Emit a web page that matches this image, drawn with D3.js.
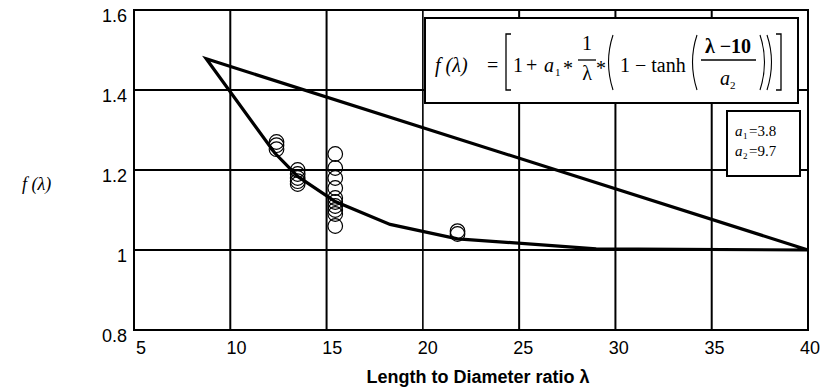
<!DOCTYPE html>
<html><head><meta charset="utf-8">
<script src="https://cdn.jsdelivr.net/npm/d3@7"></script>
<style>body{margin:0;background:#fff}svg{display:block}</style>
</head><body><svg id="c" width="829" height="391"></svg>
<script>
// ---- data ----
const xTicks = [5, 10, 15, 20, 25, 30, 35, 40];
const yTicks = [0.8, 1.0, 1.2, 1.4, 1.6];
const yTickLabels = ["0.8", "1", "1.2", "1.4", "1.6"];
// model curve f(lambda)
const curveLambda = [8.75, 12.3, 13.5, 15.45, 18.3, 21.8, 29, 40];
const curveF      = [1.478, 1.243, 1.184, 1.121, 1.064, 1.028, 1.003, 1.0];
// straight bounding line
const boundLambda = [40, 8.75];
const boundF      = [1.0, 1.478];
// observed points
const obsLambda = [12.4, 12.4, 12.4, 13.5, 13.5, 13.5, 13.5, 13.5,
                   15.45, 15.45, 15.45, 15.45, 15.45, 15.45, 15.45, 15.45, 15.45, 15.45,
                   21.8, 21.8];
const obsF      = [1.27, 1.262, 1.252, 1.2, 1.19, 1.18, 1.172, 1.165,
                   1.24, 1.205, 1.18, 1.155, 1.13, 1.12, 1.11, 1.10, 1.09, 1.06,
                   1.047, 1.04];
const a1 = "3.8", a2 = "9.7";

const svg = d3.select("#c");
const x = d3.scaleLinear().domain([5, 40]).range([134, 808]);
const y = d3.scaleLinear().domain([0.8, 1.6]).range([330, 10]);
const xLab = d3.scaleLinear().domain([5, 40]).range([141, 810]);

// gridlines
svg.append("g").selectAll("line").data(xTicks.slice(1, -1)).join("line")
  .attr("x1", d => x(d)).attr("x2", d => x(d)).attr("y1", y(1.6)).attr("y2", y(0.8))
  .attr("stroke", "#000").attr("stroke-width", d => d === 20 ? 1.6 : 2);
svg.append("g").selectAll("line").data(yTicks.slice(1, -1)).join("line")
  .attr("y1", d => y(d)).attr("y2", d => y(d)).attr("x1", x(5)).attr("x2", x(40))
  .attr("stroke", "#000").attr("stroke-width", 2);
// frame
svg.append("rect").attr("x", x(5)).attr("y", y(1.6))
  .attr("width", x(40) - x(5)).attr("height", y(0.8) - y(1.6))
  .attr("fill", "none").attr("stroke", "#000").attr("stroke-width", 2);

// tick labels
svg.append("g").selectAll("text").data(yTicks).join("text")
  .attr("x", 127).attr("y", d => y(d) + 6).attr("dy", "0.35em")
  .attr("text-anchor", "end").attr("font-family", "Liberation Sans, Arial, sans-serif")
  .attr("font-size", 18).text((d, i) => yTickLabels[i]);
svg.append("g").selectAll("text").data(xTicks).join("text")
  .attr("x", d => xLab(d)).attr("y", 354)
  .attr("text-anchor", "middle").attr("font-family", "Liberation Sans, Arial, sans-serif")
  .attr("font-size", 18).text(d => d);

// axis titles
svg.append("text").attr("x", 478).attr("y", 383).attr("text-anchor", "middle")
  .attr("font-family", "Liberation Sans, Arial, sans-serif").attr("font-weight", "bold")
  .attr("font-size", 18).text("Length to Diameter ratio  λ");
svg.append("text").attr("x", 22).attr("y", 190)
  .attr("font-family", "Liberation Serif, Times New Roman, serif").attr("font-style", "italic")
  .attr("font-size", 18).text("f (λ)");

// bound line + model curve drawn as one stroke so the apex is a sharp tip
const line = d3.line().x(d => x(d[0])).y(d => y(d[1]));
const pts = boundLambda.map((l, i) => [l, boundF[i]])
  .concat(curveLambda.slice(1).map((l, i) => [l, curveF[i + 1]]));
svg.append("path").datum(pts)
  .attr("d", line).attr("fill", "none").attr("stroke", "#000").attr("stroke-width", 3.2)
  .attr("stroke-linejoin", "miter").attr("stroke-miterlimit", 8);

// observations
svg.append("g").selectAll("circle").data(obsLambda.map((l, i) => [l, obsF[i]])).join("circle")
  .attr("cx", d => x(d[0])).attr("cy", d => y(d[1])).attr("r", 7.3)
  .attr("fill", "none").attr("stroke", "#000").attr("stroke-width", 1.2);

// formula box
const serif = "Liberation Serif, Times New Roman, serif";
const fb = svg.append("g");
fb.append("rect").attr("x", 425).attr("y", 18).attr("width", 373).attr("height", 85)
  .attr("fill", "#fff").attr("stroke", "#000").attr("stroke-width", 2);
function t(g, xx, yy, s, opt = {}) {
  const e = g.append("text").attr("x", xx).attr("y", yy).attr("font-family", serif)
    .attr("font-size", opt.size || 20).text(s);
  if (opt.italic) e.attr("font-style", "italic");
  if (opt.bold) e.attr("font-weight", "bold");
  if (opt.anchor) e.attr("text-anchor", opt.anchor);
  return e;
}
t(fb, 435, 72, "f (λ)", {italic: true});
t(fb, 487, 72, "=");
fb.append("path").attr("d", "M511,34 H506 V90 H511").attr("fill", "none").attr("stroke", "#000").attr("stroke-width", 1.3);
t(fb, 513, 72, "1");
t(fb, 526, 72, "+");
t(fb, 544, 72, "a", {italic: true});
t(fb, 555, 76, "1", {size: 11});
t(fb, 563, 75, "*");
t(fb, 587, 50, "1", {anchor: "middle"});
fb.append("line").attr("x1", 578).attr("x2", 596).attr("y1", 60).attr("y2", 60).attr("stroke", "#000").attr("stroke-width", 1.3);
t(fb, 587, 80, "λ", {anchor: "middle"});
t(fb, 596, 75, "*");
function paren(x0, dir) {
  fb.append("path").attr("d", `M${x0},35 Q${x0 - dir * 9},62 ${x0},90`)
    .attr("fill", "none").attr("stroke", "#000").attr("stroke-width", 1.1);
}
paren(613, 1);
t(fb, 620, 72, "1 − tanh");
paren(697, 1);
t(fb, 728, 53, "λ −10", {bold: true, anchor: "middle"});
fb.append("line").attr("x1", 701).attr("x2", 756).attr("y1", 60).attr("y2", 60).attr("stroke", "#000").attr("stroke-width", 1.3);
t(fb, 720, 85, "a", {italic: true});
t(fb, 730, 89, "2", {size: 11});
paren(760, -1);
paren(767, -1);
fb.append("path").attr("d", "M776,34 H781 V90 H776").attr("fill", "none").attr("stroke", "#000").attr("stroke-width", 1.3);

// parameter box
const pb = svg.append("g");
pb.append("rect").attr("x", 727).attr("y", 111).attr("width", 73).attr("height", 65)
  .attr("fill", "#fff").attr("stroke", "#000").attr("stroke-width", 2);
t(pb, 735, 136, "a", {italic: true, size: 15});
t(pb, 743, 139, "1", {size: 9});
t(pb, 749, 136, "=" + a1, {size: 15});
t(pb, 735, 156, "a", {italic: true, size: 15});
t(pb, 743, 159, "2", {size: 9});
t(pb, 749, 156, "=" + a2, {size: 15});
</script></body></html>
